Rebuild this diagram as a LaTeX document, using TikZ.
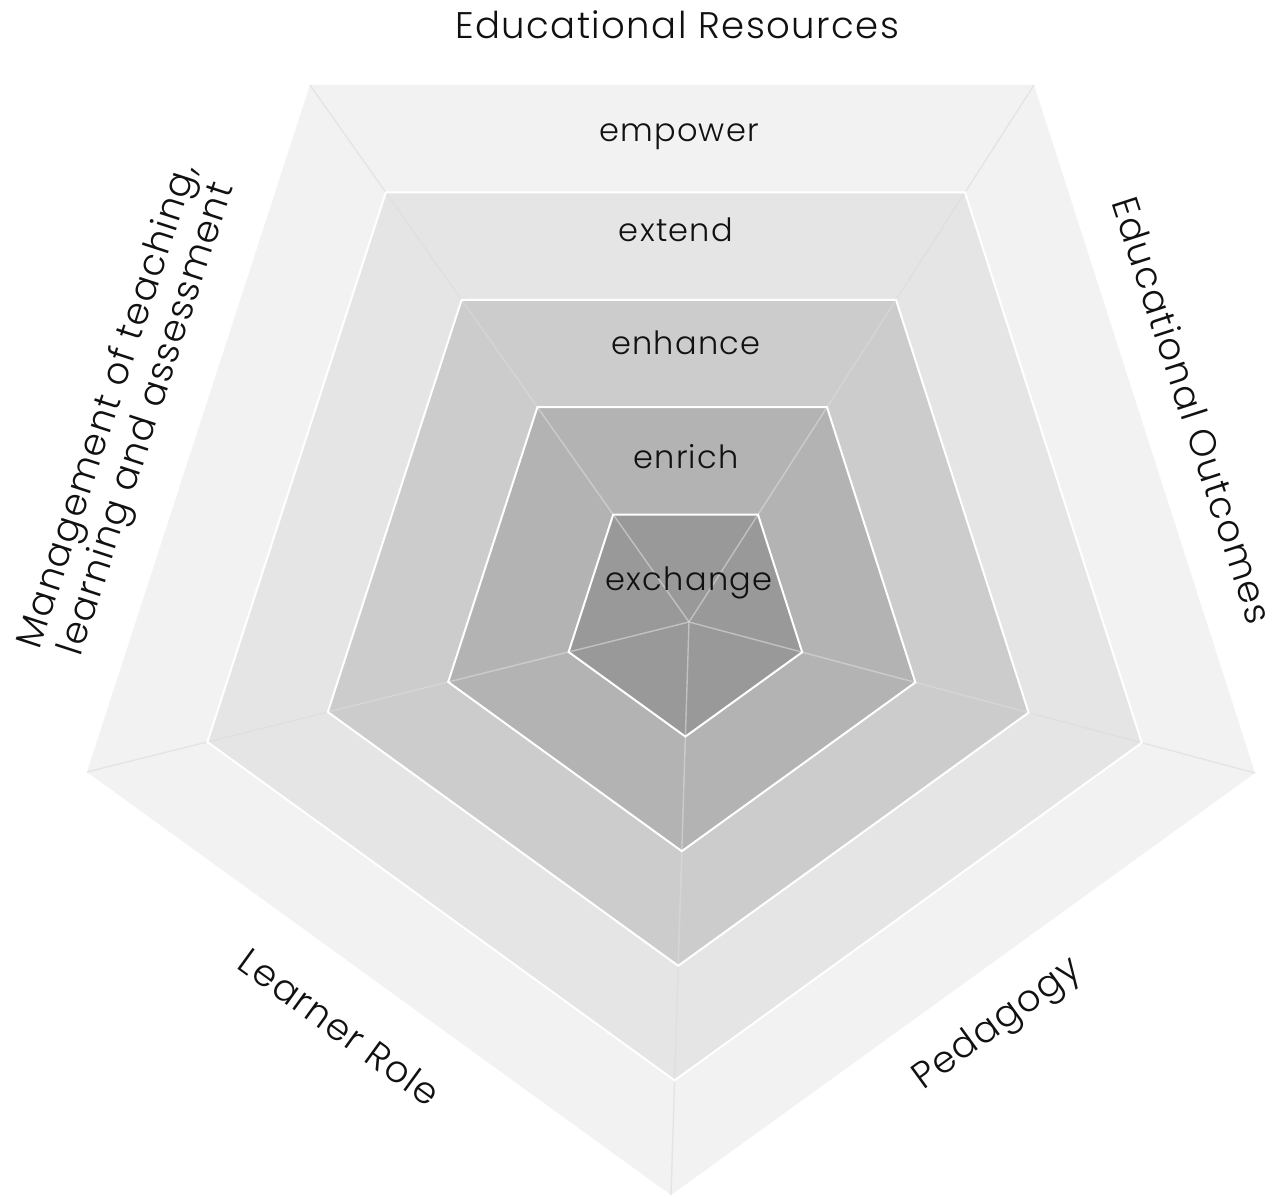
\documentclass[tikz,border=0pt]{standalone}
\usepackage{fontspec}
\setmainfont{Poppins}[UprightFont={* Light}, LetterSpace=4]
\usetikzlibrary{calc}
\definecolor{ringE}{HTML}{F2F2F2}
\definecolor{ringD}{HTML}{E5E5E5}
\definecolor{ringC}{HTML}{CCCCCC}
\definecolor{ringB}{HTML}{B3B3B3}
\definecolor{ringA}{HTML}{999999}
\definecolor{ridgecol}{HTML}{DCDCDC}
\definecolor{txt}{HTML}{111111}
\begin{document}
\begin{tikzpicture}[x=0.5pt,y=-0.5pt,
  ridge/.style={draw=ridgecol, draw opacity=0.6, line width=0.7pt},
  edgeline/.style={draw=white, line width=1pt, line join=miter},
  lbl/.style={text=txt, font=\fontsize{16}{19}\selectfont, inner sep=0pt},
  side/.style={text=txt, font=\fontsize{18.5}{20.5}\selectfont, inner sep=0pt, align=center}]
\useasboundingbox (0,0) rectangle (1286,1197);
\fill[white] (0,0) rectangle (1286,1197);
% apex and outer vertices
\coordinate (A) at (689,622);
\coordinate (V1) at (310,85);
\coordinate (V2) at (1034,85);
\coordinate (V3) at (1255,773);
\coordinate (V4) at (671,1195);
\coordinate (V5) at (87,772);
\foreach \k in {1,2,3,4}{
  \foreach \i in {1,...,5}{
    \coordinate (P\k\i) at ($(A)!\k/5!(V\i)$);
  }
}
% rings
\fill[ringE] (V1)--(V2)--(V3)--(V4)--(V5)--cycle;
\foreach \k/\c in {4/ringD,3/ringC,2/ringB,1/ringA}{
  \fill[\c] (P\k1)--(P\k2)--(P\k3)--(P\k4)--(P\k5)--cycle;
}
% ridges
\foreach \i in {1,...,5}{ \draw[ridge] (A)--(V\i); }
% borders
\foreach \k in {1,2,3,4}{
  \draw[edgeline] (P\k1)--(P\k2)--(P\k3)--(P\k4)--(P\k5)--cycle;
}
% level labels
\node[lbl, anchor=base] (empower) at (679,142) {empower};
\node[lbl, anchor=base] (extend) at (676,242) {extend};
\node[lbl, anchor=base] (enhance) at (686,355) {enhance};
\node[lbl, anchor=base] (enrich) at (686,469) {enrich};
\node[lbl, anchor=base] (exchange) at (689,591) {exchange};
% dimension labels
\node[side, anchor=base] (res) at (677,39) {Educational Resources};
\node[side, rotate=-72] (out) at (1193,410) {Educational Outcomes};
\node[side, rotate=72] (mgmt) at (129,413) {Management of teaching,\\learning and assessment};
\node[side, rotate=-36] (learner) at (340,1027) {Learner Role};
\node[side, rotate=36] (ped) at (998,1025) {Pedagogy};
\end{tikzpicture}
\end{document}
